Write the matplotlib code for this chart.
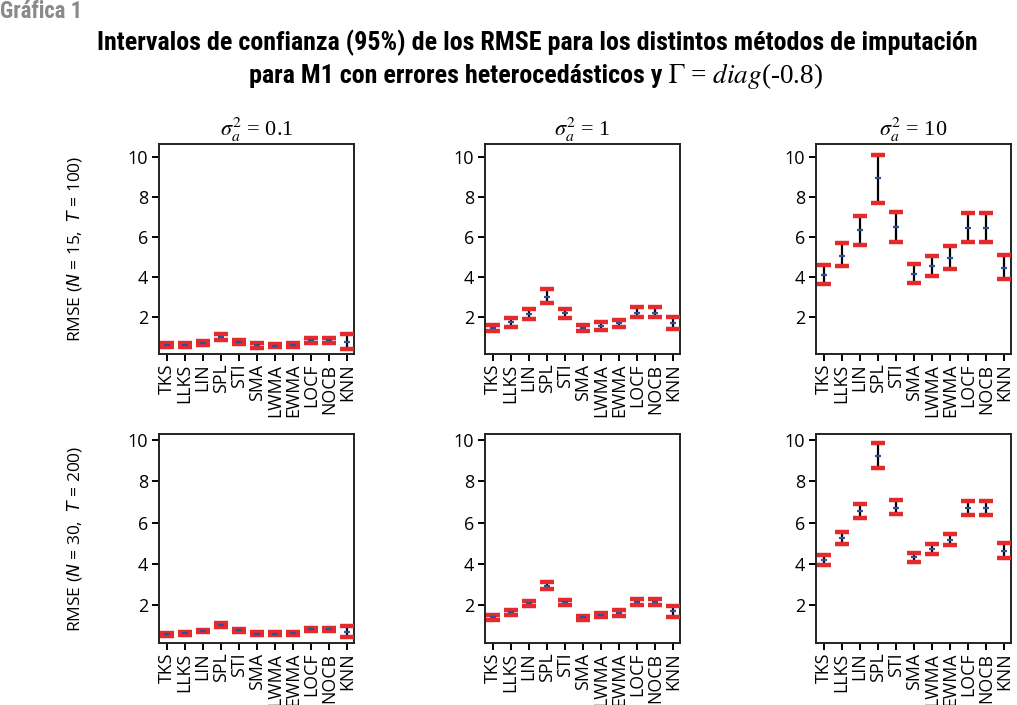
import numpy as np
import matplotlib.pyplot as plt
from matplotlib import font_manager

methods = ['TKS', 'LLKS', 'LIN', 'SPL', 'STI', 'SMA', 'LWMA', 'EWMA', 'LOCF', 'NOCB', 'KNN']
sigmas = ['0.1', '1', '10']
row_labels = [r'RMSE ($N$ = 15,  $T$ = 100)', r'RMSE ($N$ = 30,  $T$ = 200)']

# N = 15, T = 100
lo_15_01 = [0.50, 0.52, 0.62, 0.85, 0.66, 0.47, 0.50, 0.50, 0.72, 0.72, 0.38]
mean_15_01 = [0.58, 0.60, 0.71, 1.02, 0.76, 0.58, 0.57, 0.60, 0.85, 0.85, 0.73]
hi_15_01 = [0.68, 0.70, 0.82, 1.15, 0.86, 0.70, 0.65, 0.70, 0.96, 0.96, 1.13]

lo_15_1 = [1.28, 1.52, 1.90, 2.72, 1.93, 1.28, 1.35, 1.48, 2.02, 2.02, 1.38]
mean_15_1 = [1.45, 1.73, 2.13, 3.02, 2.18, 1.43, 1.57, 1.68, 2.22, 2.22, 1.72]
hi_15_1 = [1.62, 1.93, 2.40, 3.40, 2.40, 1.62, 1.73, 1.85, 2.48, 2.48, 2.02]

lo_15_10 = [3.63, 4.53, 5.62, 7.72, 5.77, 3.72, 4.05, 4.38, 5.77, 5.77, 3.88]
mean_15_10 = [4.10, 5.05, 6.35, 8.93, 6.48, 4.15, 4.55, 4.97, 6.47, 6.47, 4.43]
hi_15_10 = [4.58, 5.68, 7.07, 10.12, 7.27, 4.63, 5.05, 5.53, 7.18, 7.18, 5.10]

# N = 30, T = 200
lo_30_01 = [0.50, 0.55, 0.66, 0.94, 0.70, 0.52, 0.52, 0.56, 0.74, 0.74, 0.42]
mean_30_01 = [0.57, 0.62, 0.73, 1.02, 0.77, 0.60, 0.60, 0.63, 0.82, 0.82, 0.68]
hi_30_01 = [0.65, 0.70, 0.80, 1.10, 0.85, 0.68, 0.67, 0.70, 0.90, 0.90, 0.98]

lo_30_1 = [1.29, 1.53, 1.94, 2.76, 2.00, 1.29, 1.39, 1.48, 2.00, 2.00, 1.39]
mean_30_1 = [1.40, 1.65, 2.08, 2.94, 2.13, 1.39, 1.50, 1.60, 2.16, 2.16, 1.68]
hi_30_1 = [1.52, 1.76, 2.21, 3.11, 2.26, 1.48, 1.60, 1.73, 2.29, 2.29, 1.95]

lo_30_10 = [3.94, 4.97, 6.23, 8.63, 6.40, 4.08, 4.45, 4.89, 6.35, 6.35, 4.29]
mean_30_10 = [4.19, 5.26, 6.56, 9.24, 6.73, 4.31, 4.71, 5.13, 6.69, 6.69, 4.60]
hi_30_10 = [4.42, 5.53, 6.92, 9.87, 7.08, 4.52, 4.97, 5.44, 7.05, 7.05, 5.00]

panels = [
    [(lo_15_01, mean_15_01, hi_15_01), (lo_15_1, mean_15_1, hi_15_1), (lo_15_10, mean_15_10, hi_15_10)],
    [(lo_30_01, mean_30_01, hi_30_01), (lo_30_1, mean_30_1, hi_30_1), (lo_30_10, mean_30_10, hi_30_10)],
]

plt.rcParams['font.family'] = ['Open Sans', 'DejaVu Sans']

# pick a narrow bold face for the headline if one is around
names = {f.name for f in font_manager.fontManager.ttflist}
head_font = 'DejaVu Sans'
for nm in ['Liberation Sans Narrow', 'DejaVu Sans Condensed', 'Roboto Condensed', 'Open Sans Condensed']:
    if nm in names:
        head_font = nm
        break

red = '#e52a2e'
blue = '#2d4f9c'

fig = plt.figure(figsize=(10.17, 7.05), dpi=100)

lefts = [159 / 1017, 485 / 1017, 816 / 1017]
bottoms = [1 - 354 / 705, 1 - 643 / 705]
heights = [210 / 705, 209 / 705]
ylims = [(0.15, 10.65), (0.15, 10.3)]
w = 195 / 1017

x = np.arange(len(methods))
for r in range(2):
    for c in range(3):
        ax = fig.add_axes([lefts[c], bottoms[r], w, heights[r]])
        lo, mean, hi = panels[r][c]
        ax.vlines(x, lo, hi, color='black', lw=1.6, zorder=2)
        ax.plot(x, lo, ls='none', marker='_', ms=10, mew=3.2, color=red, zorder=3)
        ax.plot(x, hi, ls='none', marker='_', ms=10, mew=3.2, color=red, zorder=3)
        ax.plot(x, mean, ls='none', marker='_', ms=5, mew=1.6, color=blue, zorder=4)
        ax.set_xlim(-0.42, 10.38)
        ax.set_ylim(*ylims[r])
        ax.set_yticks([2, 4, 6, 8, 10])
        ax.set_xticks(x)
        ax.set_xticklabels(methods, rotation=90, fontsize=12.8)
        ax.tick_params(axis='y', labelsize=13, length=5, width=1.4, pad=3)
        ax.tick_params(axis='x', length=5, width=1.4, pad=2)
        for s in ax.spines.values():
            s.set_linewidth(1.4)
            s.set_color('#222222')
        if r == 0:
            ax.set_title(r'$\sigma_a^{2}$ = ' + sigmas[c], fontsize=16, pad=4,
                         family='Liberation Serif', math_fontfamily='stix')
    fig.text(75 / 1017, bottoms[r] + heights[r] / 2,
             row_labels[r], rotation=90, ha='center', va='center', fontsize=12.5,
             math_fontfamily='dejavusans')

g = fig.text(0, 1 - 12 / 705, 'Gráfica 1', color='#8a8a8a', fontsize=12,
             fontweight='bold', family=head_font, ha='left', va='center')
t1 = fig.text(537 / 1017, 1 - 43 / 705,
              'Intervalos de confianza (95%) de los RMSE para los distintos métodos de imputación',
              fontsize=18, fontweight='bold', family=head_font, ha='center', va='center')
t2 = fig.text(662 / 1017, 1 - 76 / 705, 'para M1 con errores heterocedásticos y',
              fontsize=18, fontweight='bold', family=head_font, ha='right', va='center')
t3 = fig.text(668 / 1017, 1 - 76 / 705, r'$\Gamma$ = $diag$(-0.8)', fontsize=19.5,
              family='Liberation Serif', math_fontfamily='stix', ha='left', va='center')

# match the headline and the label widths to the source figure
fig.canvas.draw()
ren = fig.canvas.get_renderer()
k = 881 / t1.get_window_extent(ren).width
t1.set_fontsize(18 * k)
t2.set_fontsize(18 * k)
g.set_fontsize(12 * 83 / g.get_window_extent(ren).width)

fig.savefig('out.png', dpi=100)
